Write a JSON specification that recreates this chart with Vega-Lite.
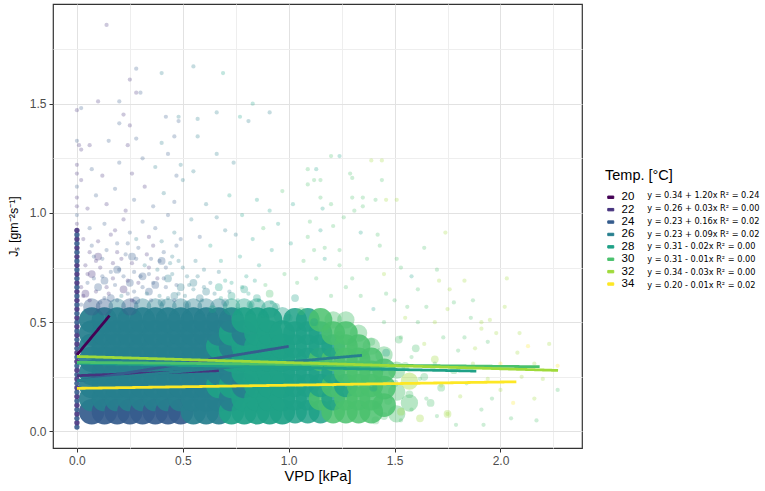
{
  "$schema": "https://vega.github.io/schema/vega-lite/v6.json",
  "width": 529,
  "height": 444,
  "autosize": {"type": "none"},
  "padding": {"left": 53, "top": 4, "right": 183, "bottom": 43},
  "background": "white",
  "config": {
    "font": "Liberation Sans",
    "view": {"stroke": "#333333", "strokeWidth": 1.2}
  },
  "datasets": {
    "coreA": [
      {"x":0.07,"y":0.09,"t":24},{"x":0.07,"y":0.15,"t":26},{"x":0.07,"y":0.21,"t":26},{"x":0.07,"y":0.27,"t":26},{"x":0.07,"y":0.33,"t":26},{"x":0.07,"y":0.39,"t":26},{"x":0.07,"y":0.45,"t":26},{"x":0.07,"y":0.51,"t":26},
      {"x":0.13,"y":0.09,"t":24},{"x":0.13,"y":0.15,"t":26},{"x":0.13,"y":0.21,"t":26},{"x":0.13,"y":0.27,"t":26},{"x":0.13,"y":0.33,"t":26},{"x":0.13,"y":0.39,"t":26},{"x":0.13,"y":0.45,"t":26},{"x":0.13,"y":0.51,"t":26},
      {"x":0.19,"y":0.09,"t":24},{"x":0.19,"y":0.15,"t":26},{"x":0.19,"y":0.21,"t":26},{"x":0.19,"y":0.27,"t":26},{"x":0.19,"y":0.33,"t":26},{"x":0.19,"y":0.39,"t":26},{"x":0.19,"y":0.45,"t":26},{"x":0.19,"y":0.51,"t":26},
      {"x":0.25,"y":0.09,"t":24},{"x":0.25,"y":0.15,"t":26},{"x":0.25,"y":0.21,"t":26},{"x":0.25,"y":0.27,"t":26},{"x":0.25,"y":0.33,"t":26},{"x":0.25,"y":0.39,"t":26},{"x":0.25,"y":0.45,"t":26},{"x":0.25,"y":0.51,"t":26},
      {"x":0.31,"y":0.09,"t":24},{"x":0.31,"y":0.15,"t":26},{"x":0.31,"y":0.21,"t":26},{"x":0.31,"y":0.27,"t":26},{"x":0.31,"y":0.33,"t":26},{"x":0.31,"y":0.39,"t":26},{"x":0.31,"y":0.45,"t":26},{"x":0.31,"y":0.51,"t":26},
      {"x":0.37,"y":0.09,"t":24},{"x":0.37,"y":0.15,"t":26},{"x":0.37,"y":0.21,"t":26},{"x":0.37,"y":0.27,"t":26},{"x":0.37,"y":0.33,"t":26},{"x":0.37,"y":0.39,"t":26},{"x":0.37,"y":0.45,"t":26},{"x":0.37,"y":0.51,"t":26},
      {"x":0.43,"y":0.09,"t":24},{"x":0.43,"y":0.15,"t":26},{"x":0.43,"y":0.21,"t":26},{"x":0.43,"y":0.27,"t":26},{"x":0.43,"y":0.33,"t":26},{"x":0.43,"y":0.39,"t":26},{"x":0.43,"y":0.45,"t":26},{"x":0.43,"y":0.51,"t":26},
      {"x":0.49,"y":0.09,"t":24},{"x":0.49,"y":0.15,"t":26},{"x":0.49,"y":0.21,"t":26},{"x":0.49,"y":0.27,"t":26},{"x":0.49,"y":0.33,"t":26},{"x":0.49,"y":0.39,"t":26},{"x":0.49,"y":0.45,"t":26},{"x":0.49,"y":0.51,"t":26},
      {"x":0.55,"y":0.09,"t":26},{"x":0.55,"y":0.15,"t":26},{"x":0.55,"y":0.21,"t":26},{"x":0.55,"y":0.27,"t":26},{"x":0.55,"y":0.33,"t":26},{"x":0.55,"y":0.39,"t":26},{"x":0.55,"y":0.45,"t":26},{"x":0.55,"y":0.51,"t":26},
      {"x":0.61,"y":0.09,"t":26},{"x":0.61,"y":0.15,"t":26},{"x":0.61,"y":0.21,"t":26},{"x":0.61,"y":0.27,"t":26},{"x":0.61,"y":0.33,"t":26},{"x":0.61,"y":0.39,"t":26},{"x":0.61,"y":0.45,"t":26},{"x":0.61,"y":0.51,"t":26},
      {"x":0.67,"y":0.09,"t":26},{"x":0.67,"y":0.15,"t":26},{"x":0.67,"y":0.21,"t":28},{"x":0.67,"y":0.27,"t":26},{"x":0.67,"y":0.33,"t":26},{"x":0.67,"y":0.39,"t":28},{"x":0.67,"y":0.45,"t":26},{"x":0.67,"y":0.51,"t":26},
      {"x":0.73,"y":0.09,"t":28},{"x":0.73,"y":0.15,"t":26},{"x":0.73,"y":0.21,"t":28},{"x":0.73,"y":0.27,"t":26},{"x":0.73,"y":0.33,"t":28},{"x":0.73,"y":0.39,"t":26},{"x":0.73,"y":0.45,"t":28},{"x":0.73,"y":0.51,"t":26},
      {"x":0.79,"y":0.09,"t":28},{"x":0.79,"y":0.15,"t":28},{"x":0.79,"y":0.21,"t":26},{"x":0.79,"y":0.27,"t":28},{"x":0.79,"y":0.33,"t":28},{"x":0.79,"y":0.39,"t":28},{"x":0.79,"y":0.45,"t":26},{"x":0.79,"y":0.51,"t":28},
      {"x":0.85,"y":0.09,"t":28},{"x":0.85,"y":0.15,"t":28},{"x":0.85,"y":0.21,"t":28},{"x":0.85,"y":0.27,"t":28},{"x":0.85,"y":0.33,"t":28},{"x":0.85,"y":0.39,"t":28},{"x":0.85,"y":0.45,"t":28},{"x":0.85,"y":0.51,"t":28},
      {"x":0.91,"y":0.09,"t":28},{"x":0.91,"y":0.15,"t":28},{"x":0.91,"y":0.21,"t":28},{"x":0.91,"y":0.27,"t":28},{"x":0.91,"y":0.33,"t":28},{"x":0.91,"y":0.39,"t":28},{"x":0.91,"y":0.45,"t":28},{"x":0.91,"y":0.51,"t":28},
      {"x":0.97,"y":0.09,"t":28},{"x":0.97,"y":0.15,"t":28},{"x":0.97,"y":0.21,"t":28},{"x":0.97,"y":0.27,"t":28},{"x":0.97,"y":0.33,"t":28},{"x":0.97,"y":0.39,"t":28},{"x":0.97,"y":0.45,"t":28}
    ],
    "coreB": [
      {"x":1.03,"y":0.09,"t":28},{"x":1.03,"y":0.15,"t":28},{"x":1.03,"y":0.21,"t":28},{"x":1.03,"y":0.27,"t":28},{"x":1.03,"y":0.33,"t":28},{"x":1.03,"y":0.39,"t":28},{"x":1.03,"y":0.45,"t":28},{"x":1.03,"y":0.51,"t":28},
      {"x":1.09,"y":0.09,"t":28},{"x":1.09,"y":0.15,"t":28},{"x":1.09,"y":0.21,"t":28},{"x":1.09,"y":0.27,"t":28},{"x":1.09,"y":0.33,"t":28},{"x":1.09,"y":0.39,"t":28},{"x":1.09,"y":0.45,"t":28},{"x":1.09,"y":0.51,"t":28},
      {"x":1.15,"y":0.09,"t":28},{"x":1.15,"y":0.15,"t":30},{"x":1.15,"y":0.21,"t":28},{"x":1.15,"y":0.27,"t":28},{"x":1.15,"y":0.33,"t":30},{"x":1.15,"y":0.39,"t":28},{"x":1.15,"y":0.45,"t":28},{"x":1.15,"y":0.51,"t":30},
      {"x":1.21,"y":0.09,"t":30},{"x":1.21,"y":0.15,"t":28},{"x":1.21,"y":0.21,"t":30},{"x":1.21,"y":0.27,"t":28},{"x":1.21,"y":0.33,"t":30},{"x":1.21,"y":0.39,"t":28},{"x":1.21,"y":0.45,"t":30},
      {"x":1.27,"y":0.09,"t":30},{"x":1.27,"y":0.15,"t":30},{"x":1.27,"y":0.21,"t":28},{"x":1.27,"y":0.27,"t":30},{"x":1.27,"y":0.33,"t":30},{"x":1.27,"y":0.39,"t":30},{"x":1.27,"y":0.45,"t":30},
      {"x":1.33,"y":0.09,"t":30},{"x":1.33,"y":0.15,"t":30},{"x":1.33,"y":0.21,"t":30},{"x":1.33,"y":0.27,"t":30},{"x":1.33,"y":0.33,"t":30},{"x":1.33,"y":0.39,"t":30},
      {"x":1.39,"y":0.09,"t":30},{"x":1.39,"y":0.15,"t":30},{"x":1.39,"y":0.21,"t":30},{"x":1.39,"y":0.27,"t":30},{"x":1.39,"y":0.33,"t":30},
      {"x":1.45,"y":0.12,"t":30},{"x":1.45,"y":0.20,"t":30},{"x":1.45,"y":0.28,"t":30}
    ],
    "rim": [
      {"x":0.07,"y":0.57,"t":24},{"x":0.13,"y":0.57,"t":24},{"x":0.19,"y":0.57,"t":26},{"x":0.25,"y":0.57,"t":24},{"x":0.31,"y":0.57,"t":26},{"x":0.37,"y":0.57,"t":26},{"x":0.43,"y":0.57,"t":26},{"x":0.49,"y":0.57,"t":26},{"x":0.55,"y":0.57,"t":26},{"x":0.61,"y":0.57,"t":26},{"x":0.67,"y":0.57,"t":26},{"x":0.73,"y":0.57,"t":28},{"x":0.79,"y":0.57,"t":28},{"x":0.85,"y":0.57,"t":28},{"x":0.91,"y":0.56,"t":28},{"x":0.97,"y":0.53,"t":28},
      {"x":1.21,"y":0.51,"t":30},{"x":1.27,"y":0.51,"t":30},{"x":1.33,"y":0.45,"t":30},{"x":1.39,"y":0.39,"t":30},{"x":1.45,"y":0.35,"t":30},{"x":1.51,"y":0.08,"t":30},{"x":1.51,"y":0.18,"t":30},{"x":1.51,"y":0.28,"t":30},{"x":1.57,"y":0.13,"t":30},{"x":1.57,"y":0.23,"t":32}
    ],
    "mid": [
      {"x":0.04,"y":0.63,"t":22},{"x":0.10,"y":0.66,"t":24},{"x":0.16,"y":0.61,"t":24},{"x":0.22,"y":0.65,"t":22},{"x":0.28,"y":0.60,"t":24},{"x":0.34,"y":0.64,"t":24},{"x":0.40,"y":0.59,"t":26},{"x":0.46,"y":0.62,"t":26},{"x":0.52,"y":0.58,"t":26},{"x":0.58,"y":0.61,"t":26},{"x":0.64,"y":0.56,"t":28},{"x":0.70,"y":0.59,"t":26},{"x":0.76,"y":0.55,"t":28},{"x":0.82,"y":0.58,"t":28},{"x":0.88,"y":0.54,"t":28},{"x":0.94,"y":0.57,"t":28},{"x":1.00,"y":0.52,"t":28},{"x":1.06,"y":0.55,"t":30},{"x":1.12,"y":0.50,"t":28},{"x":1.18,"y":0.47,"t":30},{"x":1.24,"y":0.44,"t":30},{"x":1.30,"y":0.41,"t":30},
      {"x":0.07,"y":0.72,"t":22},{"x":0.19,"y":0.74,"t":24},{"x":0.31,"y":0.71,"t":24},{"x":0.43,"y":0.70,"t":26},{"x":0.55,"y":0.68,"t":26},{"x":0.67,"y":0.66,"t":28},{"x":0.79,"y":0.65,"t":28},{"x":0.91,"y":0.63,"t":30},{"x":1.03,"y":0.61,"t":28},
      {"x":0.13,"y":0.69,"t":24},{"x":0.25,"y":0.68,"t":24},{"x":0.37,"y":0.67,"t":24},{"x":0.49,"y":0.66,"t":26},{"x":0.61,"y":0.64,"t":26},{"x":0.73,"y":0.62,"t":28},{"x":0.85,"y":0.61,"t":28},{"x":0.10,"y":0.80,"t":22},{"x":0.26,"y":0.80,"t":24},{"x":0.40,"y":0.78,"t":24},
      {"x":1.45,"y":0.07,"t":30},{"x":1.47,"y":0.14,"t":30},{"x":1.44,"y":0.29,"t":30},{"x":1.46,"y":0.36,"t":28},{"x":1.50,"y":0.22,"t":30},{"x":1.52,"y":0.42,"t":30},{"x":1.53,"y":0.09,"t":32},{"x":1.55,"y":0.30,"t":30},{"x":1.57,"y":0.17,"t":30},{"x":1.60,"y":0.38,"t":30},{"x":1.62,"y":0.06,"t":32},{"x":1.64,"y":0.25,"t":30},{"x":1.67,"y":0.13,"t":30},{"x":1.69,"y":0.33,"t":32},{"x":1.72,"y":0.20,"t":30},{"x":1.75,"y":0.08,"t":32},{"x":1.78,"y":0.28,"t":30},{"x":1.41,"y":0.05,"t":30},{"x":1.38,"y":0.29,"t":30},{"x":1.36,"y":0.35,"t":30},{"x":1.39,"y":0.41,"t":30},{"x":1.40,"y":0.20,"t":28},{"x":1.42,"y":0.12,"t":30}
    ],
    "fringe": [
      {"x":0.03,"y":0.62,"t":22},{"x":0.05,"y":0.68,"t":24},{"x":0.09,"y":0.64,"t":22},{"x":0.12,"y":0.71,"t":24},{"x":0.15,"y":0.63,"t":22},{"x":0.18,"y":0.67,"t":24},{"x":0.21,"y":0.62,"t":26},{"x":0.24,"y":0.69,"t":22},{"x":0.27,"y":0.64,"t":24},{"x":0.30,"y":0.71,"t":24},{"x":0.33,"y":0.63,"t":26},{"x":0.36,"y":0.68,"t":24},{"x":0.39,"y":0.62,"t":26},{"x":0.42,"y":0.66,"t":24},{"x":0.45,"y":0.72,"t":26},{"x":0.48,"y":0.63,"t":26},
      {"x":0.04,"y":0.76,"t":22},{"x":0.08,"y":0.80,"t":24},{"x":0.11,"y":0.75,"t":22},{"x":0.14,"y":0.83,"t":24},{"x":0.17,"y":0.77,"t":22},{"x":0.20,"y":0.74,"t":24},{"x":0.23,"y":0.81,"t":24},{"x":0.26,"y":0.77,"t":22},{"x":0.29,"y":0.84,"t":24},{"x":0.32,"y":0.76,"t":26},{"x":0.35,"y":0.79,"t":24},{"x":0.38,"y":0.74,"t":26},{"x":0.41,"y":0.82,"t":24},{"x":0.44,"y":0.77,"t":26},{"x":0.47,"y":0.85,"t":24},
      {"x":0.03,"y":0.88,"t":22},{"x":0.06,"y":0.93,"t":24},{"x":0.10,"y":0.87,"t":22},{"x":0.13,"y":0.95,"t":24},{"x":0.16,"y":0.90,"t":22},{"x":0.19,"y":0.86,"t":24},{"x":0.22,"y":0.97,"t":22},{"x":0.25,"y":0.91,"t":24},{"x":0.28,"y":0.88,"t":26},{"x":0.31,"y":0.96,"t":24},{"x":0.34,"y":0.89,"t":22},{"x":0.37,"y":0.93,"t":24},{"x":0.40,"y":0.87,"t":26},{"x":0.43,"y":0.99,"t":24},{"x":0.46,"y":0.91,"t":26},
      {"x":0.02,"y":0.58,"t":24},{"x":0.06,"y":0.60,"t":22},{"x":0.11,"y":0.59,"t":24},{"x":0.14,"y":0.66,"t":22},{"x":0.19,"y":0.60,"t":24},{"x":0.22,"y":0.71,"t":24},{"x":0.26,"y":0.60,"t":22},{"x":0.31,"y":0.66,"t":24},{"x":0.35,"y":0.60,"t":24},{"x":0.38,"y":0.70,"t":22},{"x":0.43,"y":0.61,"t":26},{"x":0.47,"y":0.67,"t":24},{"x":0.51,"y":0.62,"t":26},{"x":0.55,"y":0.65,"t":26},{"x":0.59,"y":0.60,"t":26},{"x":0.63,"y":0.68,"t":26},{"x":0.68,"y":0.61,"t":28},{"x":0.72,"y":0.64,"t":26},{"x":0.76,"y":0.60,"t":28},{"x":0.81,"y":0.63,"t":28},{"x":0.86,"y":0.60,"t":28},{"x":0.92,"y":0.59,"t":28},
      {"x":0.05,"y":0.72,"t":22},{"x":0.09,"y":0.78,"t":22},{"x":0.16,"y":0.73,"t":24},{"x":0.21,"y":0.79,"t":22},{"x":0.27,"y":0.73,"t":24},{"x":0.33,"y":0.81,"t":22},{"x":0.39,"y":0.78,"t":24},{"x":0.45,"y":0.80,"t":26},{"x":0.50,"y":0.75,"t":26},{"x":0.07,"y":0.85,"t":24},{"x":0.18,"y":0.92,"t":22},{"x":0.24,"y":0.86,"t":24},{"x":0.36,"y":0.85,"t":22},{"x":0.49,"y":0.88,"t":24},
      {"x":0.02,"y":0.66,"t":22},{"x":0.08,"y":0.70,"t":24},{"x":0.13,"y":0.61,"t":24},{"x":0.17,"y":0.70,"t":22},{"x":0.24,"y":0.63,"t":24},{"x":0.29,"y":0.68,"t":22},{"x":0.34,"y":0.72,"t":24},{"x":0.41,"y":0.70,"t":24},{"x":0.46,"y":0.60,"t":24},{"x":0.53,"y":0.67,"t":26},{"x":0.57,"y":0.71,"t":26},{"x":0.65,"y":0.63,"t":26},{"x":0.70,"y":0.69,"t":28},{"x":0.78,"y":0.66,"t":28},{"x":0.84,"y":0.69,"t":28},{"x":0.06,"y":0.82,"t":22},{"x":0.12,"y":0.79,"t":24},{"x":0.19,"y":0.82,"t":22},{"x":0.28,"y":0.79,"t":24},{"x":0.34,"y":0.75,"t":22},{"x":0.42,"y":0.75,"t":24},{"x":0.48,"y":0.78,"t":26},{"x":0.60,"y":0.74,"t":26},{"x":0.68,"y":0.78,"t":28},
      {"x":0.05,"y":1.02,"t":22},{"x":0.09,"y":1.08,"t":24},{"x":0.14,"y":1.04,"t":22},{"x":0.18,"y":1.11,"t":24},{"x":0.23,"y":1.01,"t":22},{"x":0.27,"y":1.06,"t":24},{"x":0.32,"y":1.12,"t":22},{"x":0.36,"y":1.03,"t":24},{"x":0.41,"y":1.09,"t":26},{"x":0.46,"y":1.05,"t":24},{"x":0.50,"y":1.15,"t":26},
      {"x":0.02,"y":1.15,"t":22},{"x":0.07,"y":1.20,"t":24},{"x":0.12,"y":1.17,"t":22},{"x":0.20,"y":1.23,"t":24},{"x":0.26,"y":1.18,"t":22},{"x":0.31,"y":1.25,"t":24},{"x":0.37,"y":1.21,"t":26},{"x":0.43,"y":1.27,"t":24},{"x":0.47,"y":1.17,"t":24},{"x":0.49,"y":1.22,"t":26},{"x":0.55,"y":1.19,"t":26},{"x":0.02,"y":1.29,"t":22},{"x":0.06,"y":1.31,"t":22},{"x":0.15,"y":1.33,"t":24},{"x":0.24,"y":1.31,"t":22},{"x":0.28,"y":1.34,"t":24},{"x":0.40,"y":1.32,"t":26},{"x":0.46,"y":1.35,"t":24},{"x":0.57,"y":1.35,"t":26},{"x":0.66,"y":1.27,"t":26},{"x":0.74,"y":1.23,"t":26},
      {"x":0.00,"y":1.47,"t":22},{"x":0.02,"y":1.48,"t":24},{"x":0.10,"y":1.51,"t":22},{"x":0.20,"y":1.51,"t":24},{"x":0.22,"y":1.45,"t":22},{"x":0.20,"y":1.41,"t":24},{"x":0.25,"y":1.40,"t":22},{"x":0.42,"y":1.44,"t":24},{"x":0.48,"y":1.44,"t":26},{"x":0.48,"y":1.42,"t":24},{"x":0.57,"y":1.43,"t":26},{"x":0.66,"y":1.46,"t":26},{"x":0.77,"y":1.44,"t":28},{"x":0.81,"y":1.42,"t":26},{"x":0.83,"y":1.50,"t":28},{"x":0.91,"y":1.46,"t":26},{"x":0.28,"y":1.55,"t":22},{"x":0.30,"y":1.55,"t":24},{"x":0.25,"y":1.61,"t":22},{"x":0.28,"y":1.66,"t":24},{"x":0.40,"y":1.64,"t":26},{"x":0.55,"y":1.67,"t":26},{"x":0.69,"y":1.64,"t":28},{"x":0.14,"y":1.86,"t":22},
      {"x":0.00,"y":0.95,"t":22},{"x":0.00,"y":0.99,"t":24},{"x":0.00,"y":1.03,"t":22},{"x":0.00,"y":1.07,"t":22},{"x":0.00,"y":1.12,"t":24},{"x":0.00,"y":1.18,"t":22},{"x":0.00,"y":1.22,"t":22},{"x":0.01,"y":1.31,"t":22},{"x":0.00,"y":1.33,"t":24},
      {"x":0.52,"y":0.71,"t":26},{"x":0.56,"y":0.78,"t":26},{"x":0.60,"y":0.66,"t":26},{"x":0.63,"y":0.85,"t":28},{"x":0.67,"y":0.73,"t":26},{"x":0.70,"y":0.92,"t":26},{"x":0.73,"y":0.68,"t":28},{"x":0.77,"y":0.80,"t":28},{"x":0.80,"y":0.71,"t":28},{"x":0.83,"y":0.88,"t":28},{"x":0.86,"y":0.76,"t":28},{"x":0.89,"y":0.67,"t":30},{"x":0.92,"y":0.83,"t":28},{"x":0.95,"y":0.95,"t":28},{"x":0.98,"y":0.72,"t":30},{"x":1.01,"y":0.86,"t":28},{"x":1.04,"y":0.68,"t":30},{"x":1.07,"y":0.78,"t":30},{"x":1.10,"y":0.96,"t":30},{"x":1.13,"y":0.70,"t":30},{"x":1.17,"y":0.84,"t":30},{"x":1.20,"y":0.62,"t":30},{"x":1.24,"y":0.76,"t":30},{"x":1.27,"y":0.66,"t":30},{"x":0.54,"y":0.97,"t":26},{"x":0.61,"y":1.04,"t":26},{"x":0.66,"y":0.98,"t":26},{"x":0.72,"y":1.08,"t":28},{"x":0.78,"y":0.99,"t":28},{"x":0.85,"y":1.06,"t":28},{"x":0.91,"y":1.01,"t":28},{"x":0.97,"y":1.10,"t":30},{"x":1.02,"y":1.04,"t":28},{"x":1.09,"y":1.13,"t":30},{"x":0.58,"y":0.89,"t":24},{"x":0.75,"y":0.90,"t":26},{"x":0.88,"y":0.93,"t":30},
      {"x":1.15,"y":1.07,"t":30},{"x":1.20,"y":1.04,"t":30},{"x":1.16,"y":1.02,"t":28},{"x":1.35,"y":1.07,"t":30},{"x":1.31,"y":1.01,"t":30},{"x":1.35,"y":1.03,"t":30},{"x":1.46,"y":1.06,"t":32},{"x":1.51,"y":1.06,"t":32},{"x":1.15,"y":1.15,"t":30},{"x":1.13,"y":1.20,"t":28},{"x":1.29,"y":1.18,"t":30},{"x":1.30,"y":1.16,"t":30},{"x":1.44,"y":1.15,"t":30},{"x":1.24,"y":1.26,"t":28},{"x":1.44,"y":1.24,"t":32},{"x":1.20,"y":1.26,"t":30},{"x":1.39,"y":1.24,"t":32},{"x":1.09,"y":1.20,"t":30},{"x":1.12,"y":1.15,"t":30},{"x":1.41,"y":1.06,"t":30},{"x":1.30,"y":1.07,"t":30},
      {"x":1.53,"y":0.75,"t":30},{"x":1.64,"y":0.84,"t":30},{"x":1.71,"y":0.69,"t":32},{"x":1.74,"y":0.91,"t":32},{"x":1.78,"y":0.59,"t":30},{"x":1.83,"y":0.69,"t":32},{"x":1.86,"y":0.52,"t":30},{"x":1.91,"y":0.47,"t":32},{"x":1.94,"y":0.41,"t":30},{"x":1.98,"y":0.45,"t":32},{"x":2.03,"y":0.70,"t":32},{"x":2.09,"y":0.45,"t":32},{"x":2.13,"y":0.39,"t":34},{"x":2.20,"y":0.24,"t":32},{"x":2.27,"y":0.19,"t":30},{"x":2.16,"y":0.15,"t":32},{"x":2.17,"y":0.05,"t":30},{"x":2.06,"y":0.13,"t":34},{"x":2.00,"y":0.19,"t":32},{"x":1.91,"y":0.10,"t":30},{"x":1.92,"y":0.03,"t":30},{"x":1.79,"y":0.03,"t":30},{"x":1.75,"y":0.08,"t":32},{"x":1.84,"y":0.22,"t":30},{"x":1.87,"y":0.31,"t":32},{"x":1.80,"y":0.37,"t":30},{"x":1.73,"y":0.43,"t":30},{"x":1.69,"y":0.50,"t":32},{"x":1.65,"y":0.57,"t":30},{"x":1.75,"y":0.56,"t":32},{"x":1.61,"y":0.65,"t":30},{"x":1.58,"y":0.71,"t":28},{"x":1.51,"y":0.79,"t":30},{"x":1.43,"y":0.85,"t":30},{"x":1.34,"y":0.91,"t":28},{"x":1.26,"y":0.98,"t":30},{"x":1.21,"y":0.94,"t":30},{"x":1.15,"y":0.92,"t":28},{"x":1.09,"y":0.89,"t":30},{"x":1.12,"y":0.83,"t":30},{"x":1.17,"y":0.79,"t":28},{"x":1.24,"y":0.83,"t":30},{"x":1.37,"y":0.79,"t":30},{"x":1.45,"y":0.72,"t":32},{"x":1.46,"y":0.63,"t":30},{"x":1.56,"y":0.57,"t":30},{"x":1.61,"y":0.50,"t":30},{"x":1.53,"y":0.43,"t":30},{"x":1.64,"y":0.40,"t":32},{"x":1.58,"y":0.34,"t":30},{"x":1.69,"y":0.31,"t":30},{"x":1.62,"y":0.24,"t":30},{"x":1.72,"y":0.21,"t":32},{"x":1.65,"y":0.15,"t":30},{"x":1.58,"y":0.10,"t":30},{"x":1.70,"y":0.07,"t":30},{"x":1.53,"y":0.05,"t":30},{"x":1.81,"y":0.16,"t":32},{"x":1.94,"y":0.24,"t":32},{"x":2.00,"y":0.31,"t":34},{"x":2.08,"y":0.36,"t":32},{"x":2.16,"y":0.31,"t":32},{"x":1.91,"y":0.50,"t":32},{"x":1.83,"y":0.43,"t":30},{"x":1.76,"y":0.65,"t":32},{"x":1.87,"y":0.60,"t":30},{"x":1.95,"y":0.51,"t":32},{"x":2.02,"y":0.57,"t":32},
      {"x":2.23,"y":0.40,"t":32},{"x":2.27,"y":0.30,"t":34},{"x":2.10,"y":0.25,"t":32},{"x":2.05,"y":0.06,"t":30},{"x":1.96,"y":0.15,"t":30},{"x":1.88,"y":0.38,"t":32},{"x":1.70,"y":0.74,"t":30},{"x":1.34,"y":0.62,"t":30},{"x":1.40,"y":0.56,"t":28},{"x":1.30,"y":0.70,"t":30},{"x":1.50,"y":0.60,"t":30},{"x":1.45,"y":0.50,"t":30},{"x":1.55,"y":0.52,"t":32},{"x":1.42,"y":0.90,"t":30}
    ],
    "strip": [
      {"x":0,"y":0.02,"t":24},{"x":0,"y":0.04,"t":22},{"x":0,"y":0.06,"t":24},{"x":0,"y":0.08,"t":22},{"x":0,"y":0.10,"t":24},{"x":0,"y":0.12,"t":22},{"x":0,"y":0.14,"t":24},{"x":0,"y":0.16,"t":22},{"x":0,"y":0.18,"t":24},{"x":0,"y":0.20,"t":22},{"x":0,"y":0.22,"t":24},{"x":0,"y":0.24,"t":22},{"x":0,"y":0.26,"t":24},{"x":0,"y":0.28,"t":22},{"x":0,"y":0.30,"t":24},{"x":0,"y":0.32,"t":22},{"x":0,"y":0.34,"t":24},{"x":0,"y":0.36,"t":22},{"x":0,"y":0.38,"t":24},{"x":0,"y":0.40,"t":22},{"x":0,"y":0.42,"t":24},{"x":0,"y":0.44,"t":22},{"x":0,"y":0.46,"t":24},{"x":0,"y":0.48,"t":22},
      {"x":0,"y":0.50,"t":24},{"x":0,"y":0.52,"t":22},{"x":0,"y":0.54,"t":24},{"x":0,"y":0.56,"t":22},{"x":0,"y":0.58,"t":24},{"x":0,"y":0.60,"t":22},{"x":0,"y":0.62,"t":24},{"x":0,"y":0.64,"t":22},{"x":0,"y":0.66,"t":24},{"x":0,"y":0.68,"t":22},{"x":0,"y":0.70,"t":24},{"x":0,"y":0.72,"t":22},{"x":0,"y":0.74,"t":24},{"x":0,"y":0.76,"t":22},{"x":0,"y":0.78,"t":24},{"x":0,"y":0.80,"t":22},{"x":0,"y":0.82,"t":24},{"x":0,"y":0.84,"t":22},{"x":0,"y":0.86,"t":24},{"x":0,"y":0.88,"t":22},{"x":0,"y":0.90,"t":24},{"x":0,"y":0.92,"t":22}
    ],
    "fits": [
      {"t":20,"x":0,"y":0.35,"x2":0.154,"y2":0.53,"eq":"y = 0.34 + 1.20x R² = 0.24"},
      {"t":22,"x":0,"y":0.255,"x2":0.67,"y2":0.278,"eq":"y = 0.26 + 0.03x R² = 0.00"},
      {"t":24,"x":0,"y":0.23,"x2":1.0,"y2":0.389,"eq":"y = 0.23 + 0.16x R² = 0.02"},
      {"t":26,"x":0,"y":0.232,"x2":1.346,"y2":0.348,"eq":"y = 0.23 + 0.09x R² = 0.02"},
      {"t":28,"x":0,"y":0.312,"x2":1.886,"y2":0.276,"eq":"y = 0.31 - 0.02x R² = 0.00"},
      {"t":30,"x":0,"y":0.316,"x2":2.185,"y2":0.296,"eq":"y = 0.31 - 0.01x R² = 0.00"},
      {"t":32,"x":0,"y":0.343,"x2":2.272,"y2":0.279,"eq":"y = 0.34 - 0.03x R² = 0.00"},
      {"t":34,"x":0,"y":0.197,"x2":2.075,"y2":0.227,"eq":"y = 0.20 - 0.01x R² = 0.02"}
    ]
  },
  "encoding": {
    "x": {
      "field": "x",
      "type": "quantitative",
      "title": "VPD [kPa]",
      "scale": {"domain": [-0.113, 2.385], "nice": false, "zero": false},
      "axis": {
        "values": [0, 0.25, 0.5, 0.75, 1, 1.25, 1.5, 1.75, 2, 2.25],
        "labelExpr": "datum.value % 0.5 === 0 ? format(datum.value, '.1f') : ''",
        "tickOpacity": {"condition": {"test": "datum.value % 0.5 === 0", "value": 1}, "value": 0},
        "gridColor": {"condition": {"test": "datum.value % 0.5 === 0", "value": "#E2E2E2"}, "value": "#EEEEEE"},
        "domain": false,
        "tickColor": "#333333",
        "tickSize": 4,
        "labelColor": "#4D4D4D",
        "labelFontSize": 12,
        "labelPadding": 3,
        "titleFontSize": 14.5,
        "titleFontWeight": "normal",
        "titleColor": "#000000",
        "titlePadding": 3
      }
    },
    "y": {
      "field": "y",
      "type": "quantitative",
      "title": "Jₛ [gm⁻²s⁻¹]",
      "scale": {"domain": [-0.076, 1.956], "nice": false, "zero": false},
      "axis": {
        "values": [0, 0.25, 0.5, 0.75, 1, 1.25, 1.5, 1.75],
        "labelExpr": "datum.value % 0.5 === 0 ? format(datum.value, '.1f') : ''",
        "tickOpacity": {"condition": {"test": "datum.value % 0.5 === 0", "value": 1}, "value": 0},
        "gridColor": {"condition": {"test": "datum.value % 0.5 === 0", "value": "#E2E2E2"}, "value": "#EEEEEE"},
        "domain": false,
        "tickColor": "#333333",
        "tickSize": 4,
        "labelColor": "#4D4D4D",
        "labelFontSize": 12,
        "labelPadding": 3,
        "titleFontSize": 12.5,
        "titleFontWeight": "normal",
        "titleColor": "#000000",
        "titlePadding": 9
      }
    },
    "color": {
      "field": "t",
      "type": "ordinal",
      "scale": {"domain": [20, 22, 24, 26, 28, 30, 32, 34], "range": ["#440154", "#46337E", "#365C8D", "#277F8E", "#1FA187", "#4AC16D", "#9FDA3A", "#FDE725"]},
      "legend": {
        "orient": "none",
        "legendX": 552,
        "legendY": 165,
        "direction": "vertical",
        "title": "Temp. [°C]",
        "titleFontSize": 14.5,
        "titleFontWeight": "normal",
        "titleColor": "#000000",
        "titlePadding": 8,
        "labelFontSize": 11.5,
        "labelColor": "#000000",
        "labelOffset": 5,
        "symbolType": "M-1,-0.4L1,-0.4L1,0.4L-1,0.4Z",
        "symbolSize": 36,
        "symbolOpacity": 1,
        "symbolStrokeWidth": 1,
        "rowPadding": -0.6,
        "padding": 0
      }
    }
  },
  "layer": [
    {
      "data": {"name": "coreA"},
      "mark": {"type": "circle", "size": 650, "opacity": 0.93}
    },
    {
      "data": {"name": "coreB"},
      "mark": {"type": "circle", "size": 560, "opacity": 0.85}
    },
    {
      "data": {"name": "rim"},
      "mark": {"type": "circle", "size": 300, "opacity": 0.4}
    },
    {
      "data": {"name": "mid"},
      "mark": {"type": "circle", "size": 60, "opacity": 0.3}
    },
    {
      "data": {"name": "fringe"},
      "mark": {"type": "circle", "size": 18, "opacity": 0.27}
    },
    {
      "data": {"name": "strip"},
      "mark": {"type": "circle", "size": 28, "opacity": 0.9}
    },
    {
      "data": {"name": "fits"},
      "mark": {"type": "rule", "strokeWidth": 2.8},
      "encoding": {
        "x2": {"field": "x2"},
        "y2": {"field": "y2"},
        "strokeDash": {
          "field": "eq",
          "type": "nominal",
          "scale": {
            "domain": ["y = 0.34 + 1.20x R² = 0.24", "y = 0.26 + 0.03x R² = 0.00", "y = 0.23 + 0.16x R² = 0.02", "y = 0.23 + 0.09x R² = 0.02", "y = 0.31 - 0.02x R² = 0.00", "y = 0.31 - 0.01x R² = 0.00", "y = 0.34 - 0.03x R² = 0.00", "y = 0.20 - 0.01x R² = 0.02"],
            "range": [[1, 0], [1, 0], [1, 0], [1, 0], [1, 0], [1, 0], [1, 0], [1, 0]]
          },
          "legend": {
            "orient": "none",
            "legendX": 584,
            "legendY": 188,
            "direction": "vertical",
            "title": null,
            "labelFont": "DejaVu Sans",
            "labelFontSize": 8.2,
            "labelColor": "#000000",
            "labelOffset": 2,
            "labelLimit": 200,
            "symbolOpacity": 0,
            "symbolSize": 4,
            "rowPadding": 3.8,
            "padding": 0
          }
        }
      }
    }
  ]
}
